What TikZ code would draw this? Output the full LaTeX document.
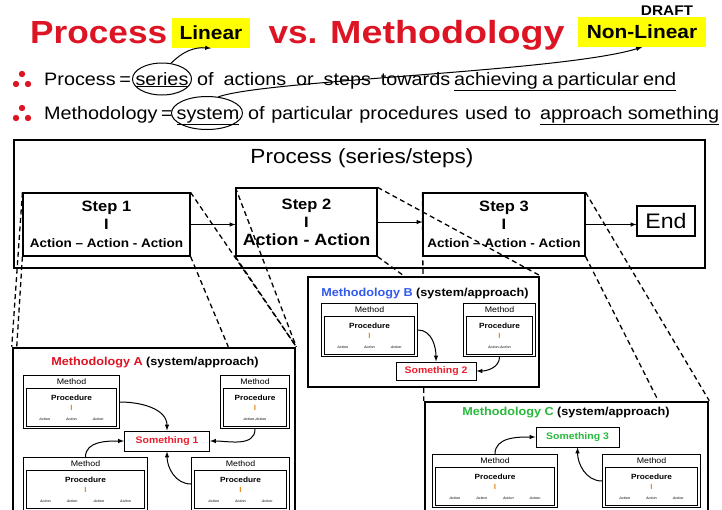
\documentclass[tikz,border=0pt]{standalone}
\usepackage{fontspec}
\setmainfont{Liberation Sans}[FakeStretch=1.1]
\usetikzlibrary{positioning,shapes.geometric}

\definecolor{titlered}{RGB}{220,20,35}
\definecolor{hiyellow}{RGB}{255,255,0}
\definecolor{methblue}{RGB}{50,90,235}
\definecolor{methgreen}{RGB}{40,185,60}
\definecolor{thingred}{RGB}{235,30,45}
\definecolor{barorange}{RGB}{235,140,30}

\newcommand{\actTwo}{Action-Action}
\newcommand{\actThree}{Action\hspace{16pt}Action\hspace{16pt}Action}
\newcommand{\actFour}{Action\hspace{16pt}Action\hspace{16pt}Action\hspace{16pt}Action}

\pgfdeclarelayer{back}
\pgfdeclarelayer{zoom}
\pgfsetlayers{back,zoom,main}

\begin{document}
\begin{tikzpicture}[x=1pt, y=-1pt,
    headline/.style={font=\fontsize{32}{36}\selectfont\bfseries, text=titlered, inner sep=0pt},
    tag/.style={fill=hiyellow, font=\fontsize{19}{22}\selectfont\bfseries, inner sep=0pt},
    bullettext/.style={font=\fontsize{18}{21}\selectfont, inner sep=0pt},
    ring/.style={draw, ellipse, line width=1pt, inner sep=0pt},
    outerbox/.style={draw, line width=2.5pt, fill=white, inner sep=0pt},
    stepbox/.style={draw, line width=1.2pt, fill=white, inner sep=0pt, align=center,
                    font=\fontsize{15}{18}\selectfont\bfseries},
    methodbox/.style={draw, line width=1pt, fill=white, inner sep=0pt, minimum height=53pt},
    procbox/.style={draw, line width=1.3pt, inner sep=0pt, minimum height=38pt, align=center,
                    font=\fontsize{7.5}{10}\selectfont\bfseries},
    cardlabel/.style={font=\fontsize{8}{9}\selectfont, inner sep=0pt},
    thingbox/.style={draw, line width=1pt, fill=white, inner sep=0pt,
                     font=\fontsize{9.5}{11}\selectfont\bfseries, text=thingred},
    boxtitle/.style={font=\fontsize{11.5}{13}\selectfont\bfseries, inner sep=0pt},
    zoomline/.style={line width=1.3pt, dash pattern=on 5pt off 3.5pt},
    link/.style={-latex, line width=1pt}]

\useasboundingbox (0,0) rectangle (722,509);
\clip (0,0) rectangle (722,509);

% heading
\node[headline, anchor=base west] (hProc) at (30,43) {Process};
\node[headline, anchor=base] (hVs) at (293,43) {vs.};
\node[headline, anchor=base west] (hMeth) at (330,43) {\scalebox{1.07}[1]{Methodology}};
\node[font=\fontsize{14}{16}\selectfont\bfseries, inner sep=0pt] (draft) at (667,11) {DRAFT};
\node[tag, minimum width=78pt, minimum height=30pt] (lin) at (211,33) {Linear};
\node[tag, minimum width=128pt, minimum height=30pt] (nonlin) at (642,32) {Non-Linear};

% bullets
\foreach \yy in {84,118}
    \fill[titlered] (22,\yy-10) circle (3.2pt) (16,\yy) circle (3.2pt) (28,\yy) circle (3.2pt);

\node[bullettext, anchor=base west] (p1) at (44,85) {\makebox[84pt][s]{Process =}};
\node[bullettext, anchor=base] (ser) at (162,85) {\underline{series}};
\node[bullettext, anchor=base west] (p2) at (197,85) {\makebox[253pt][s]{of actions or steps towards}};
\node[bullettext, anchor=base west] (p3) at (454,85) {\underline{\makebox[222pt][s]{achieving a particular end}}};
\node[bullettext, anchor=base west] (m1) at (44,119) {\makebox[126pt][s]{Methodology =}};
\node[bullettext, anchor=base] (sys) at (208,119) {\underline{system}};
\node[bullettext, anchor=base west] (m2) at (248,119) {\makebox[283pt][s]{of particular procedures used to}};
\node[bullettext, anchor=base west] (m3) at (540,119) {\underline{\makebox[179pt][s]{approach something}}};

\node[ring, minimum width=59pt, minimum height=32pt] (serRing) at (162,79) {};
\node[ring, minimum width=71pt, minimum height=33pt] (sysRing) at (207,113) {};
\draw[link] (serRing.60) to[bend left=25] (lin.south);
\draw[link] (sysRing.55) .. controls (265,80) and (560,72) .. (nonlin.south);

% process row
\begin{pgfonlayer}{back}
\node[outerbox, minimum width=691pt, minimum height=128pt] (procBox) at (359.5,204) {};
\node[font=\fontsize{20.5}{24}\selectfont, inner sep=0pt] (procTitle) at (362,158) {Process (series/steps)};

\node[stepbox, minimum width=167pt, minimum height=63pt] (s1) at (106.5,224.5)
    {Step 1\\ I\\ {\fontsize{12.3}{14}\selectfont Action – Action - Action}};
\node[stepbox, minimum width=141pt, minimum height=68pt] (s2) at (306.5,222)
    {Step 2\\ I\\ {\fontsize{16.3}{19}\selectfont Action - Action}};
\node[stepbox, minimum width=162pt, minimum height=63pt] (s3) at (504,224.5)
    {Step 3\\ I\\ {\fontsize{12.3}{14}\selectfont Action – Action - Action}};
\node[stepbox, font=\fontsize{21}{24}\selectfont, minimum width=58pt, minimum height=30pt] (fin) at (666,221) {End};

\draw[link] (s1.east) -- (s2.west |- s1.east);
\draw[link] (s2.east) -- (s3.west |- s2.east);
\draw[link] (s3.east) -- (fin.west |- s3.east);
\end{pgfonlayer}

% methodologies
\node[outerbox, minimum width=231pt, minimum height=110pt] (methB) at (423.5,332) {};
\node[outerbox, minimum width=282pt, minimum height=172pt] (methA) at (154,434) {};
\node[outerbox, minimum width=283pt, minimum height=118pt] (methC) at (566.5,461) {};

\node[boxtitle] (titleA) at (155,363) {\textcolor{titlered}{Methodology A} (system/approach)};
\node[boxtitle] (titleB) at (425,294) {\textcolor{methblue}{Methodology B} (system/approach)};
\node[boxtitle] (titleC) at (566,413) {\textcolor{methgreen}{Methodology C} (system/approach)};

\foreach \nm/\lx/\ty/\w/\acts in {A1/23/375/96/\actThree, A2/220/375/69/\actTwo,
        A3/23/457/124/\actFour, A4/191/457/98/\actThree,
        B1/321/303/96/\actThree, B2/463/303/72/\actTwo,
        C1/432/454/125/\actFour, C2/602/454/98/\actThree} {
    \node[methodbox, minimum width=\w, anchor=north west] (m\nm) at (\lx,\ty) {};
    \node[cardlabel, anchor=base] (lbl\nm) at ([yshift=-9pt]m\nm.north) {Method};
    \node[procbox, minimum width=\w-6, anchor=south] (p\nm) at ([yshift=2pt]m\nm.south)
        {Procedure\\ {\color{barorange}I}\\ {\fontsize{3.5}{4}\selectfont\mdseries\itshape\acts}};
}

\node[thingbox, minimum width=85pt, minimum height=20pt] (thing1) at (167,441) {Something 1};
\node[thingbox, minimum width=80pt, minimum height=18pt] (thing2) at (436,371) {Something 2};
\node[thingbox, text=methgreen, minimum width=83pt, minimum height=20pt] (thing3) at (577.5,437) {Something 3};

\draw[link] (mA1.east) to[out=0,in=90] (thing1.north);
\draw[link] (mA2.south) to[out=-90,in=0] (thing1.east);
\draw[link] (mA3.north) to[out=90,in=180] (thing1.west);
\draw[link] (mA4.west) to[out=180,in=-90] (thing1.south);
\draw[link] (mB1.east) to[out=0,in=90] (thing2.north);
\draw[link] (mB2.south) to[out=-90,in=0] (thing2.east);
\draw[link] (mC1.north) to[out=90,in=180] (thing3.west);
\draw[link] (mC2.west) to[out=180,in=-90] (thing3.south);

% zoom lines
\coordinate (aL) at ([xshift=5pt]methA.north west);
\coordinate (aM) at ([xshift=-68pt]methA.north east);
\coordinate (bM) at ([xshift=97pt]methB.north west);
\coordinate (cM) at ([xshift=-51pt]methC.north east);
\begin{pgfonlayer}{zoom}
\draw[zoomline] (s1.north west) -- (methA.north west);
\draw[zoomline] (s1.south west) -- (aL);
\draw[zoomline] (s1.north east) -- (methA.north east);
\draw[zoomline] (s1.south east) -- (aM);
\draw[zoomline] (s2.north west) -- (methA.north east);
\draw[zoomline] (s2.south west) -- (methA.north east);
\draw[zoomline] (s2.north east) -- (methB.north east);
\draw[zoomline] (s2.south east) -- (bM);
\draw[zoomline] (s3.north west) -- (methC.north west);
\draw[zoomline] (s3.north east) -- (methC.north east);
\draw[zoomline] (s3.south east) -- (cM);
\end{pgfonlayer}

\end{tikzpicture}
\end{document}
